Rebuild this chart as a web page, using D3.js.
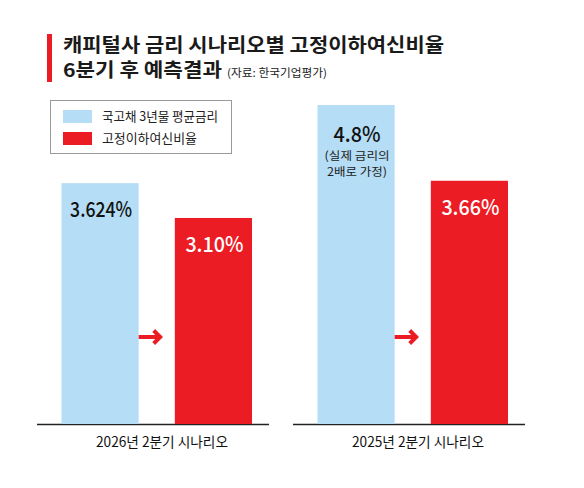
<!DOCTYPE html>
<html><head><meta charset="utf-8">
<script src="https://cdn.jsdelivr.net/npm/d3@7"></script>
<style>
html,body{margin:0;padding:0;background:#fff;}
svg{display:block;font-family:"Noto Sans CJK KR","Noto Sans",sans-serif;}
</style></head>
<body>
<script>
// ---- data ----
const titleLines = ["캐피털사 금리 시나리오별 고정이하여신비율", "6분기 후 예측결과"];
const sourceText = "(자료: 한국기업평가)";
const scenarios = ["2026년 2분기 시나리오", "2025년 2분기 시나리오"];
const seriesNames = ["국고채 3년물 평균금리", "고정이하여신비율"];
const govBondRate = [3.624, 4.8];
const nplRatio = [3.10, 3.66];
const govBondLabels = ["3.624%", "4.8%"];
const nplLabels = ["3.10%", "3.66%"];
const govBondNotes = [[], ["(실제 금리의", "2배로 가정)"]];
const colors = ["#b5ddf5", "#ec1c24"];

// ---- layout ----
const W = 584, H = 488;
const svg = d3.select("body").append("svg").attr("width", W).attr("height", H);

const baseY = 424;
const y = d3.scaleLinear().domain([0, 4.8]).range([baseY, baseY - 319]);
const x0 = d3.scaleBand().domain(scenarios).range([37, 525]).paddingInner(0.09375).paddingOuter(0);
const x1 = d3.scaleBand().domain(seriesNames).range([24.5, 215]).paddingInner(0.319).paddingOuter(0);

// title
svg.append("rect").attr("x", 47).attr("y", 34).attr("width", 5).attr("height", 48).attr("fill", "#ec1c24");
const titleLens = [381, 159];
titleLines.forEach((t, i) => {
  svg.append("text").attr("x", 63).attr("y", 52 + i * 25)
    .attr("font-size", 19).attr("font-weight", 700).attr("fill", "#1a1a1a")
    .attr("textLength", titleLens[i]).attr("lengthAdjust", "spacingAndGlyphs")
    .text(t);
});
svg.append("text").attr("x", 227).attr("y", 77).attr("font-size", 11).attr("fill", "#222")
  .attr("textLength", 100).attr("lengthAdjust", "spacingAndGlyphs").text(sourceText);

// legend
svg.append("rect").attr("x", 50.5).attr("y", 100.5).attr("width", 181).attr("height", 53)
  .attr("fill", "none").attr("stroke", "#9a9a9a").attr("stroke-width", 1);
const legLens = [116, 95];
seriesNames.forEach((s, i) => {
  const g = svg.append("g").attr("transform", `translate(63,${110 + i * 22})`);
  g.append("rect").attr("width", 29).attr("height", 13).attr("fill", colors[i]);
  g.append("text").attr("x", 39).attr("y", 6.5).attr("dy", "0.36em").attr("font-size", 13).attr("fill", "#222")
    .attr("textLength", legLens[i]).attr("lengthAdjust", "spacingAndGlyphs").text(s);
});

// groups
const groups = svg.selectAll("g.grp").data(scenarios).join("g").attr("class", "grp")
  .attr("transform", d => `translate(${x0(d)},0)`);

// baseline
groups.append("line").attr("x1", 0).attr("x2", x0.bandwidth()).attr("y1", baseY + 0.5).attr("y2", baseY + 0.5)
  .attr("stroke", "#222").attr("stroke-width", 1.6);

// bars
groups.each(function (d, gi) {
  const g = d3.select(this);
  const vals = [govBondRate[gi], nplRatio[gi]];
  const labels = [govBondLabels[gi], nplLabels[gi]];
  const labLens = { "3.624%": 62, "3.10%": 58, "4.8%": 47, "3.66%": 58 };
  seriesNames.forEach((s, si) => {
    const bx = x1(s), bw = x1.bandwidth();
    g.append("rect").attr("x", bx).attr("y", y(vals[si])).attr("width", bw).attr("height", baseY - y(vals[si]))
      .attr("fill", colors[si]);
    const lab = labels[si];
    g.append("text").attr("x", bx + bw / 2 + 1).attr("y", y(vals[si]) + (si === 0 && gi === 1 ? 37 : 34))
      .attr("text-anchor", "middle").attr("font-size", 21).attr("font-weight", 500)
      .attr("fill", si === 0 ? "#111" : "#fff")
      .attr("textLength", labLens[lab]).attr("lengthAdjust", "spacingAndGlyphs").text(lab);
    if (si === 0) {
      const noteLens = [65, 60];
      govBondNotes[gi].forEach((n, ni) => {
        g.append("text").attr("x", bx + bw / 2 + 1).attr("y", y(vals[si]) + 54.5 + ni * 16.5)
          .attr("text-anchor", "middle").attr("font-size", 11.5).attr("fill", "#222")
          .attr("textLength", noteLens[ni]).attr("lengthAdjust", "spacingAndGlyphs").text(n);
      });
    }
  });
  // arrow between bars
  const ax = x1(seriesNames[0]) + x1.bandwidth();
  const ay = baseY - 87;
  g.append("line").attr("x1", ax).attr("x2", ax + 20).attr("y1", ay).attr("y2", ay)
    .attr("stroke", colors[1]).attr("stroke-width", 4);
  g.append("path").attr("d", `M${ax + 15},${ay - 6.5} L${ax + 21.5},${ay} L${ax + 15},${ay + 6.5}`)
    .attr("fill", "none").attr("stroke", colors[1]).attr("stroke-width", 4).attr("stroke-linejoin", "miter");
  // category label
  g.append("text").attr("x", x0.bandwidth() / 2 + 9).attr("y", 447).attr("text-anchor", "middle")
    .attr("font-size", 14).attr("fill", "#111")
    .attr("textLength", 132).attr("lengthAdjust", "spacingAndGlyphs").text(d);
});
</script>
</body></html>
